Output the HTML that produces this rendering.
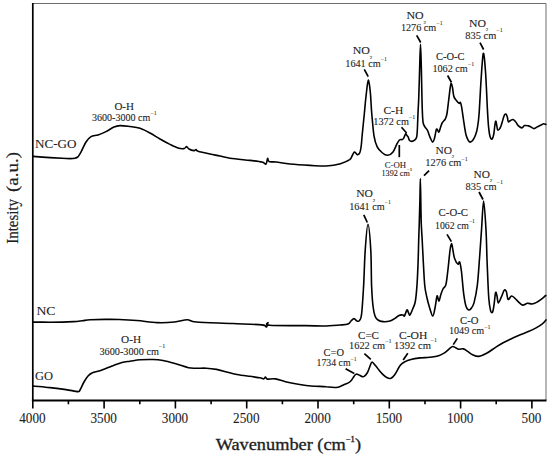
<!DOCTYPE html>
<html><head><meta charset="utf-8"><title>FTIR spectra</title>
<style>
html,body{margin:0;padding:0;background:#fff;}
body{width:550px;height:457px;overflow:hidden;}
svg{display:block;}
text{font-family:"Liberation Serif",serif;fill:#1e1e1e;stroke:#1e1e1e;stroke-width:0.1px;}
.ax{stroke:#1e1e1e;stroke-width:0.2px;}
.sub{font-size:5px;}
.a{font-size:10.2px;}
.s{font-size:8px;}
.l{font-size:12.5px;}
.t{font-size:14px;}
.sup{font-size:6px;stroke-width:0.05px;}
.c{fill:none;stroke:#000;stroke-width:1.6;stroke-linejoin:round;stroke-linecap:round;}
.ld{stroke:#000;stroke-width:1.7;stroke-linecap:butt;}
</style></head><body>
<svg width="550" height="457" viewBox="0 0 550 457">
<rect width="550" height="457" fill="#fff"/>

<path d="M33 3.5H546V400" fill="none" stroke="#6e6e6e" stroke-width="1"/>
<path d="M32.8 3V401" fill="none" stroke="#000" stroke-width="1.7"/>
<path d="M31.9 400.5H546.5" fill="none" stroke="#000" stroke-width="2"/>
<path d="M32.8 400V408.6M104.1 400V408.6M175.4 400V408.6M246.7 400V408.6M318.0 400V408.6M389.3 400V408.6M460.6 400V408.6M531.9 400V408.6M68.4 400V404.2M139.8 400V404.2M211.1 400V404.2M282.4 400V404.2M353.7 400V404.2M425.0 400V404.2M496.2 400V404.2" stroke="#000" stroke-width="1.6" fill="none"/>
<text class="t" x="32.4" y="422.5" text-anchor="middle" textLength="26.4" lengthAdjust="spacingAndGlyphs">4000</text>
<text class="t" x="103.7" y="422.5" text-anchor="middle" textLength="26.4" lengthAdjust="spacingAndGlyphs">3500</text>
<text class="t" x="175.0" y="422.5" text-anchor="middle" textLength="26.4" lengthAdjust="spacingAndGlyphs">3000</text>
<text class="t" x="246.3" y="422.5" text-anchor="middle" textLength="26.4" lengthAdjust="spacingAndGlyphs">2500</text>
<text class="t" x="317.6" y="422.5" text-anchor="middle" textLength="26.4" lengthAdjust="spacingAndGlyphs">2000</text>
<text class="t" x="388.9" y="422.5" text-anchor="middle" textLength="26.4" lengthAdjust="spacingAndGlyphs">1500</text>
<text class="t" x="460.2" y="422.5" text-anchor="middle" textLength="26.4" lengthAdjust="spacingAndGlyphs">1000</text>
<text class="t" x="531.5" y="422.5" text-anchor="middle" textLength="19.8" lengthAdjust="spacingAndGlyphs">500</text>
<path class="c" d="M33.0 156.4C35.8 156.6 45.2 157.3 50.0 157.6C54.8 157.9 58.7 158.1 62.0 158.3C65.3 158.5 67.8 158.6 70.0 158.6C72.2 158.6 73.7 158.5 75.0 158.2C76.3 157.9 77.0 157.6 77.8 157.0C78.5 156.4 78.9 155.5 79.5 154.6C80.1 153.7 80.1 153.7 81.2 151.6C82.3 149.5 84.4 144.5 86.0 142.0C87.6 139.5 89.0 137.8 91.0 136.6C93.0 135.4 95.5 135.8 98.0 135.0C100.5 134.2 103.3 132.9 106.0 131.6C108.7 130.3 111.7 128.0 114.0 127.0C116.3 126.0 117.3 125.7 120.0 125.6C122.7 125.5 126.7 126.1 130.0 126.5C133.3 126.9 136.7 127.1 140.0 128.2C143.3 129.3 146.7 131.2 150.0 133.0C153.3 134.8 156.7 137.1 160.0 139.0C163.3 140.9 167.0 142.9 170.0 144.4C173.0 145.9 175.7 147.3 178.0 148.0C180.3 148.7 182.6 148.8 184.0 148.6C185.4 148.4 185.8 146.5 186.6 146.6C187.4 146.7 187.8 148.3 189.0 149.0C190.2 149.7 192.8 150.5 194.0 150.6C195.2 150.7 195.3 149.5 196.0 149.6C196.7 149.7 195.7 150.5 198.0 151.2C200.3 151.9 206.3 153.2 210.0 154.0C213.7 154.8 216.7 155.3 220.0 156.0C223.3 156.7 225.0 157.5 230.0 158.2C235.0 158.9 244.7 159.8 250.0 160.4C255.3 161.0 259.3 161.4 262.0 162.0C264.7 162.6 265.1 164.6 266.0 164.0C266.9 163.4 267.1 158.8 267.6 158.4C268.1 158.0 267.6 161.0 269.0 161.6C270.4 162.2 272.5 161.6 276.0 162.0C279.5 162.4 284.3 163.4 290.0 164.0C295.7 164.6 304.0 165.1 310.0 165.4C316.0 165.7 320.9 166.3 326.0 166.0C331.1 165.7 336.6 164.8 340.5 163.7C344.4 162.6 347.7 161.1 349.7 159.7C351.7 158.2 351.8 156.2 352.5 155.0C353.2 153.8 353.7 152.6 354.2 152.2C354.7 151.8 355.0 152.2 355.5 152.6C356.0 153.0 356.4 154.5 357.1 154.6C357.8 154.7 358.9 154.6 359.6 153.2C360.3 151.8 360.8 148.9 361.2 146.0C361.6 143.1 361.6 141.3 362.1 136.0C362.6 130.7 363.7 120.0 364.3 114.0C364.9 108.0 365.2 103.7 365.6 100.0C366.0 96.3 366.2 94.6 366.5 92.0C366.8 89.4 367.1 86.5 367.4 84.5C367.7 82.5 368.1 80.0 368.4 80.0C368.7 80.0 369.1 82.5 369.4 84.5C369.7 86.5 370.0 89.1 370.3 92.0C370.6 94.9 370.8 98.3 371.0 102.0C371.2 105.7 371.3 108.4 371.8 114.0C372.3 119.6 373.1 130.3 374.0 135.8C374.9 141.3 375.8 143.9 377.2 146.8C378.6 149.7 380.8 151.6 382.5 153.0C384.2 154.4 385.9 155.5 387.7 155.3C389.4 155.1 391.5 153.8 393.0 151.9C394.5 150.0 395.8 146.0 396.9 144.0C398.0 142.0 398.6 140.8 399.5 140.0C400.4 139.2 401.5 139.8 402.2 139.5C402.9 139.2 403.0 139.3 403.6 138.4C404.2 137.5 405.0 134.3 405.6 133.8C406.2 133.3 406.6 135.1 407.0 135.6C407.4 136.1 407.8 136.2 408.2 137.0C408.6 137.8 408.8 139.5 409.4 140.2C410.0 140.9 410.7 141.4 411.6 141.4C412.5 141.4 413.8 140.9 414.6 140.2C415.4 139.5 416.1 139.1 416.6 137.2C417.1 135.3 417.2 132.7 417.4 128.7C417.6 124.7 417.8 118.0 418.0 113.1C418.2 108.1 418.4 106.2 418.7 99.0C419.0 91.8 419.3 79.1 419.6 70.0C419.9 60.9 420.2 44.2 420.5 44.2C420.8 44.2 421.1 60.7 421.4 70.0C421.6 79.3 421.8 92.2 422.0 100.0C422.2 107.8 422.4 113.1 422.6 117.0C422.8 120.9 422.9 121.8 423.3 123.5C423.7 125.2 424.2 125.8 424.9 126.9C425.6 128.1 426.6 128.7 427.5 130.4C428.4 132.2 429.2 135.5 430.1 137.4C431.0 139.3 431.9 141.9 432.6 142.1C433.3 142.2 433.9 140.2 434.5 138.3C435.1 136.4 435.7 131.9 436.1 130.4C436.5 128.9 436.6 128.9 437.1 129.2C437.6 129.5 438.3 132.4 438.9 132.1C439.5 131.8 439.9 129.1 440.5 127.5C441.1 125.9 441.6 123.8 442.4 122.5C443.1 121.2 444.3 120.8 445.0 119.5C445.7 118.2 446.2 117.5 446.8 114.5C447.4 111.5 447.9 106.2 448.5 101.5C449.1 96.8 449.9 89.5 450.4 86.5C450.9 83.5 451.0 83.4 451.4 83.6C451.8 83.8 452.1 85.4 452.5 87.5C452.9 89.6 453.2 94.1 453.8 96.3C454.4 98.5 455.5 99.4 456.4 100.6C457.3 101.8 458.3 103.0 459.0 103.3C459.7 103.6 460.0 101.8 460.4 102.4C460.8 103.0 461.1 104.0 461.6 106.8C462.1 109.6 462.7 114.3 463.4 119.0C464.1 123.7 465.1 131.2 466.0 134.8C466.9 138.5 467.9 139.7 468.6 140.9C469.3 142.1 469.7 142.2 470.4 142.1C471.1 141.9 472.1 141.2 473.0 140.0C473.9 138.8 474.9 136.8 475.6 134.8C476.3 132.8 476.8 131.3 477.4 127.8C478.0 124.3 478.5 121.9 479.1 113.8C479.7 105.7 480.4 89.5 481.1 79.4C481.8 69.3 482.6 54.6 483.3 53.3C484.0 52.0 484.8 62.2 485.5 71.5C486.2 80.8 486.9 99.6 487.4 109.1C487.9 118.5 488.2 123.5 488.7 128.2C489.2 132.9 489.6 135.3 490.2 137.1C490.8 138.9 491.5 139.4 492.1 139.0C492.7 138.6 493.2 136.9 493.7 134.5C494.2 132.1 494.6 126.6 495.0 124.4C495.4 122.2 495.6 121.0 495.9 121.2C496.2 121.4 496.5 124.1 496.8 125.6C497.1 127.1 497.2 129.8 497.8 130.1C498.4 130.4 499.6 128.9 500.4 127.5C501.1 126.1 501.7 123.8 502.3 121.8C502.9 119.8 503.6 116.8 504.2 115.5C504.8 114.2 505.6 113.9 506.1 114.2C506.6 114.5 507.0 116.1 507.4 117.4C507.8 118.7 507.8 121.3 508.3 121.8C508.8 122.3 509.7 120.9 510.5 120.5C511.3 120.1 512.2 119.3 513.1 119.5C514.0 119.7 514.8 120.8 515.6 121.8C516.5 122.8 517.1 124.6 518.2 125.6C519.3 126.6 521.0 127.9 522.0 127.9C523.0 127.9 523.4 125.9 524.5 125.6C525.6 125.3 527.3 125.7 528.4 125.9C529.5 126.1 529.9 126.5 530.9 126.9C531.9 127.4 533.0 128.6 534.1 128.6C535.2 128.6 536.1 127.5 537.3 126.9C538.5 126.3 540.0 125.5 541.1 125.0C542.2 124.5 542.8 123.8 543.6 123.7C544.4 123.6 545.4 124.3 545.8 124.4"/>
<path class="c" d="M33.0 322.1C35.8 322.1 45.0 322.2 50.0 322.2C55.0 322.2 58.8 322.2 62.7 322.1C66.6 322.0 70.3 321.8 73.6 321.6C76.9 321.4 79.7 321.0 82.4 320.7C85.1 320.4 86.2 320.0 90.0 319.8C93.8 319.6 100.2 319.4 105.0 319.4C109.8 319.3 113.7 319.3 119.0 319.5C124.3 319.7 130.5 320.0 136.9 320.5C143.3 321.0 150.9 322.4 157.2 322.6C163.5 322.9 169.5 322.5 174.5 322.0C179.5 321.5 183.7 319.8 187.3 319.8C191.0 319.8 188.8 321.4 196.4 322.0C204.0 322.6 221.8 323.0 232.7 323.5C243.6 324.0 256.2 324.3 261.8 324.9C267.4 325.5 265.5 327.4 266.5 327.0C267.5 326.6 267.4 323.0 268.0 322.7C268.6 322.4 263.6 324.8 269.8 325.3C276.1 325.8 296.5 325.5 305.5 325.6C314.5 325.7 317.9 326.1 323.6 326.0C329.4 325.9 335.9 325.3 340.0 325.0C344.1 324.7 346.2 324.7 348.0 324.0C349.8 323.3 350.0 321.9 351.0 321.0C352.0 320.1 353.0 318.6 354.0 318.6C355.0 318.6 356.1 320.7 357.0 321.0C357.9 321.3 358.6 321.8 359.4 320.6C360.2 319.4 360.9 319.8 361.6 314.0C362.3 308.2 363.0 296.6 363.6 286.0C364.2 275.4 364.5 260.8 365.2 250.5C365.9 240.2 367.1 224.3 368.0 224.3C368.9 224.3 370.2 240.2 370.8 250.5C371.4 260.8 371.2 276.8 371.6 286.0C372.0 295.2 372.4 301.0 373.0 306.0C373.6 311.0 374.2 313.7 375.0 316.0C375.8 318.3 376.7 319.1 378.0 320.0C379.3 320.9 381.0 321.4 383.0 321.6C385.0 321.8 388.0 321.5 390.0 321.0C392.0 320.5 393.5 319.3 395.0 318.4C396.5 317.5 397.7 316.0 399.0 315.4C400.3 314.8 402.1 314.9 403.0 315.0C403.9 315.1 403.7 316.8 404.4 316.0C405.1 315.2 406.3 310.5 407.0 310.0C407.7 309.5 408.1 312.2 408.6 313.0C409.1 313.8 409.4 315.6 410.0 315.0C410.6 314.4 411.6 311.8 412.5 309.5C413.4 307.2 414.6 305.6 415.3 301.5C416.1 297.4 416.5 291.6 417.0 285.0C417.5 278.4 417.8 269.5 418.1 262.0C418.4 254.5 418.5 246.7 418.7 240.0C418.9 233.3 419.1 228.7 419.3 222.0C419.5 215.3 419.7 207.2 419.9 200.0C420.1 192.8 420.2 178.5 420.4 178.5C420.5 178.5 420.7 192.8 420.8 200.0C420.9 207.2 421.0 215.3 421.2 222.0C421.4 228.7 421.9 234.0 422.2 240.0C422.5 246.0 422.7 250.5 423.1 258.0C423.5 265.5 424.1 278.3 424.7 285.0C425.3 291.7 426.2 294.2 427.0 298.0C427.8 301.8 428.7 304.7 429.6 307.7C430.6 310.7 431.8 315.9 432.7 316.0C433.6 316.1 434.4 311.0 435.0 308.0C435.6 305.0 436.2 300.0 436.6 298.0C437.0 296.0 437.0 295.5 437.4 296.0C437.8 296.5 438.4 301.3 439.0 301.0C439.6 300.7 440.3 296.0 441.0 294.0C441.7 292.0 442.2 290.6 443.0 289.0C443.8 287.4 445.1 287.6 445.9 284.6C446.7 281.6 447.1 276.7 447.8 271.0C448.5 265.3 449.4 255.1 450.0 250.5C450.6 245.9 451.1 243.6 451.6 243.6C452.1 243.6 452.5 248.0 453.0 250.5C453.5 253.0 453.8 256.2 454.6 258.5C455.4 260.8 457.2 263.6 458.0 264.2C458.8 264.8 459.0 260.8 459.6 261.9C460.2 263.0 460.7 265.7 461.4 271.0C462.1 276.3 462.9 287.9 463.7 293.8C464.5 299.7 465.2 303.7 466.0 306.3C466.8 308.9 467.6 309.2 468.3 309.7C469.1 310.2 469.6 310.3 470.5 309.2C471.4 308.1 472.9 307.0 474.0 302.9C475.1 298.8 476.5 292.2 477.4 284.6C478.3 277.0 478.9 266.4 479.6 257.3C480.3 248.2 480.8 239.4 481.5 230.0C482.2 220.6 482.9 201.0 483.6 201.0C484.4 201.0 485.4 219.5 486.0 230.0C486.6 240.5 486.7 252.8 487.2 264.2C487.7 275.6 488.2 290.5 488.8 298.3C489.4 306.1 490.0 308.5 490.6 310.8C491.2 313.1 492.0 312.9 492.6 312.0C493.2 311.1 493.5 308.3 494.0 305.1C494.5 301.9 495.1 294.1 495.6 292.6C496.1 291.1 496.6 294.3 497.0 296.0C497.4 297.7 497.6 302.7 498.3 302.9C499.0 303.1 500.3 299.3 501.3 297.2C502.3 295.1 503.4 291.2 504.2 290.3C505.0 289.4 505.6 290.0 506.3 291.5C507.0 293.0 507.2 298.6 508.1 299.4C509.0 300.1 510.4 296.2 511.5 296.0C512.6 295.8 513.7 297.2 515.0 298.3C516.3 299.4 518.2 301.8 519.5 302.9C520.8 304.0 521.6 305.0 522.9 305.1C524.2 305.2 526.0 303.5 527.5 303.3C529.0 303.1 530.5 304.1 532.0 304.0C533.5 303.9 535.1 303.2 536.6 302.4C538.1 301.6 539.6 300.5 541.1 299.4C542.6 298.2 545.0 296.1 545.8 295.5"/>
<path class="c" d="M33.0 386.0C35.8 386.3 44.5 387.0 50.0 387.6C55.5 388.2 61.3 388.9 66.0 389.6C70.7 390.3 75.7 391.5 78.0 391.6C80.3 391.7 79.0 391.6 80.0 390.0C81.0 388.4 82.7 384.3 84.0 382.0C85.3 379.7 86.7 377.5 88.0 376.0C89.3 374.5 89.7 374.0 92.0 373.0C94.3 372.0 98.7 371.2 102.0 370.0C105.3 368.8 108.7 367.3 112.0 366.0C115.3 364.7 119.0 363.2 122.0 362.4C125.0 361.6 127.0 361.6 130.0 361.2C133.0 360.8 136.4 360.1 140.2 359.8C144.0 359.5 149.1 359.4 152.9 359.5C156.7 359.6 159.2 359.8 163.0 360.5C166.8 361.2 171.6 362.6 175.8 363.8C180.1 365.0 185.1 367.0 188.5 367.7C191.9 368.4 193.2 368.1 196.2 368.2C199.2 368.3 202.9 368.0 206.3 368.2C209.7 368.4 213.1 368.8 216.5 369.4C219.9 370.0 223.3 371.1 226.7 372.0C230.1 372.9 233.1 373.8 236.9 374.5C240.7 375.2 245.8 375.8 249.6 376.3C253.4 376.9 257.5 377.4 259.8 377.8C262.1 378.2 262.7 379.0 263.6 378.9C264.5 378.8 264.8 377.1 265.4 377.1C266.0 377.1 265.8 378.8 267.4 379.1C269.0 379.4 272.3 378.5 275.3 378.9C278.3 379.3 281.6 380.8 285.4 381.7C289.2 382.6 293.9 383.5 298.2 384.2C302.4 384.9 306.2 385.6 310.9 386.0C315.6 386.4 322.0 386.4 326.2 386.7C330.4 386.9 334.1 387.5 336.3 387.5C338.5 387.5 338.3 387.3 339.6 386.8C340.9 386.3 342.7 385.2 344.2 384.5C345.7 383.8 347.6 383.3 348.8 382.6C350.0 381.9 350.7 381.3 351.5 380.3C352.3 379.3 353.1 377.7 353.8 376.7C354.5 375.7 355.0 374.8 355.7 374.4C356.4 374.0 356.9 374.0 358.0 374.4C359.1 374.8 361.5 376.4 362.6 376.7C363.7 377.0 363.6 376.8 364.4 376.2C365.2 375.6 366.3 374.4 367.2 373.0C368.1 371.6 368.8 369.2 369.5 367.5C370.2 365.8 370.8 363.8 371.3 362.9C371.8 362.0 372.0 361.9 372.7 362.4C373.4 362.8 374.3 364.3 375.4 365.6C376.5 366.9 377.9 368.7 379.1 370.2C380.3 371.7 381.5 373.1 382.8 374.4C384.1 375.7 385.8 377.1 387.2 377.8C388.6 378.5 389.7 378.9 391.0 378.3C392.3 377.8 393.4 376.6 394.9 374.5C396.4 372.4 398.5 367.7 400.1 365.6C401.7 363.5 402.9 362.9 404.7 361.9C406.5 360.9 408.3 360.2 410.9 359.5C413.5 358.8 417.1 358.3 420.2 357.9C423.3 357.5 426.4 357.7 429.5 357.3C432.6 356.9 436.1 356.5 438.7 355.7C441.3 354.9 443.1 353.9 444.9 352.7C446.7 351.5 448.3 349.6 449.6 348.6C450.9 347.6 451.6 346.6 452.6 346.5C453.6 346.4 454.7 347.2 455.7 347.7C456.7 348.2 457.5 349.1 458.8 349.3C460.1 349.5 461.9 348.5 463.5 348.9C465.1 349.3 466.6 350.7 468.1 351.7C469.6 352.7 470.9 354.0 472.7 354.8C474.5 355.6 476.6 356.6 478.9 356.4C481.2 356.1 483.8 354.9 486.6 353.3C489.4 351.8 493.1 348.9 495.9 347.1C498.7 345.3 501.3 343.8 503.6 342.5C505.9 341.2 507.2 340.6 509.8 339.4C512.4 338.2 516.0 336.6 519.1 335.3C522.2 334.0 525.6 332.8 528.4 331.6C531.2 330.4 533.8 329.2 536.1 327.9C538.4 326.6 540.6 325.2 542.3 323.9C543.9 322.6 545.4 320.6 546.0 319.9"/>
<line class="ld" x1="364.3" y1="69.3" x2="368.2" y2="76.6"/>
<line class="ld" x1="416.7" y1="35.3" x2="420.7" y2="42.5"/>
<line class="ld" x1="401.5" y1="127.3" x2="406.6" y2="133.0"/>
<line class="ld" x1="399.3" y1="145.0" x2="399.3" y2="157.2"/>
<line class="ld" x1="447.6" y1="75.5" x2="451.5" y2="82.5"/>
<line class="ld" x1="480.0" y1="42.7" x2="483.6" y2="49.5"/>
<line class="ld" x1="363.8" y1="214.8" x2="367.3" y2="222.5"/>
<line class="ld" x1="424.0" y1="175.7" x2="429.1" y2="170.6"/>
<line class="ld" x1="447.0" y1="234.4" x2="451.4" y2="241.6"/>
<line class="ld" x1="479.0" y1="192.0" x2="483.0" y2="199.5"/>
<line class="ld" x1="345.6" y1="368.8" x2="354.3" y2="373.4"/>
<line class="ld" x1="364.4" y1="353.7" x2="370.8" y2="359.4"/>
<line class="ld" x1="407.8" y1="353.3" x2="403.2" y2="360.1"/>
<line class="ld" x1="457.3" y1="338.4" x2="453.3" y2="344.6"/>
<text class="l" x="35.0" y="147.6" textLength="41.4" lengthAdjust="spacingAndGlyphs">NC-GO</text>
<text class="l" x="36.4" y="315.4" textLength="19.0" lengthAdjust="spacingAndGlyphs">NC</text>
<text class="l" x="35.0" y="380.0" textLength="18.0" lengthAdjust="spacingAndGlyphs">GO</text>
<text class="a" x="114.4" y="110.0" textLength="19.6" lengthAdjust="spacingAndGlyphs">O-H</text>
<text class="a" x="92.0" y="121.0" textLength="64.6" lengthAdjust="spacingAndGlyphs">3600-3000 cm<tspan class="sup" dy="-6.4">−1</tspan></text>
<text class="a" x="352.7" y="54.4" textLength="17.2" lengthAdjust="spacingAndGlyphs">NO</text><text class="sub" x="369.7" y="59.0">2</text>
<text class="a" x="345.3" y="67.4" textLength="41.8" lengthAdjust="spacingAndGlyphs">1641 cm<tspan class="sup" dy="-6.3">−1</tspan></text>
<text class="a" x="383.4" y="114.3" textLength="19.8" lengthAdjust="spacingAndGlyphs">C-H</text>
<text class="a" x="373.3" y="125.2" textLength="42.0" lengthAdjust="spacingAndGlyphs">1372 cm<tspan class="sup" dy="-6.1">−1</tspan></text>
<text class="s" x="384.7" y="168.0" textLength="21.3" lengthAdjust="spacingAndGlyphs">C-OH</text>
<text class="sub" x="407" y="171">−1</text>
<text class="s" x="381.5" y="176.0" textLength="28.3" lengthAdjust="spacingAndGlyphs">1392 cm</text>
<text class="a" x="406.4" y="19.1" textLength="17.2" lengthAdjust="spacingAndGlyphs">NO</text><text class="sub" x="423.4" y="23.7">2</text>
<text class="a" x="400.9" y="31.3" textLength="41.8" lengthAdjust="spacingAndGlyphs">1276 cm<tspan class="sup" dy="-6.0">−1</tspan></text>
<text class="a" x="436.0" y="59.6" textLength="28.5" lengthAdjust="spacingAndGlyphs">C-O-C</text>
<text class="a" x="432.4" y="72.0" textLength="41.8" lengthAdjust="spacingAndGlyphs">1062 cm<tspan class="sup" dy="-5.7">−1</tspan></text>
<text class="a" x="469.0" y="26.7" textLength="17.0" lengthAdjust="spacingAndGlyphs">NO</text><text class="sub" x="485.8" y="31.3">2</text>
<text class="a" x="465.3" y="38.8" textLength="37.5" lengthAdjust="spacingAndGlyphs">835 cm<tspan class="sup" dy="-7.2">−1</tspan></text>
<text class="a" x="356.2" y="197.3" textLength="16.7" lengthAdjust="spacingAndGlyphs">NO</text><text class="sub" x="372.7" y="201.9">2</text>
<text class="a" x="349.2" y="209.9" textLength="41.8" lengthAdjust="spacingAndGlyphs">1641 cm<tspan class="sup" dy="-5.8">−1</tspan></text>
<text class="a" x="435.5" y="153.5" textLength="16.5" lengthAdjust="spacingAndGlyphs">NO</text><text class="sub" x="451.8" y="158.1">2</text>
<text class="a" x="425.3" y="166.2" textLength="42.6" lengthAdjust="spacingAndGlyphs">1276 cm<tspan class="sup" dy="-5.7">−1</tspan></text>
<text class="a" x="438.6" y="215.6" textLength="29.4" lengthAdjust="spacingAndGlyphs">C-O-C</text>
<text class="a" x="435.0" y="229.1" textLength="40.0" lengthAdjust="spacingAndGlyphs">1062 cm<tspan class="sup" dy="-6.3">−1</tspan></text>
<text class="a" x="473.6" y="177.6" textLength="16.4" lengthAdjust="spacingAndGlyphs">NO</text><text class="sub" x="489.8" y="182.2">2</text>
<text class="a" x="465.6" y="189.6" textLength="37.4" lengthAdjust="spacingAndGlyphs">835 cm<tspan class="sup" dy="-5.2">−1</tspan></text>
<text class="a" x="121.1" y="342.7" textLength="20.0" lengthAdjust="spacingAndGlyphs">O-H</text>
<text class="a" x="99.5" y="354.5" textLength="65.8" lengthAdjust="spacingAndGlyphs">3600-3000 cm<tspan class="sup" dy="-6.2">−1</tspan></text>
<text class="a" x="323.6" y="356.2" textLength="20.4" lengthAdjust="spacingAndGlyphs">C=O</text>
<text class="a" x="316.5" y="365.9" textLength="40.2" lengthAdjust="spacingAndGlyphs">1734 cm<tspan class="sup" dy="-5.3">−1</tspan></text>
<text class="a" x="358.0" y="339.0" textLength="21.0" lengthAdjust="spacingAndGlyphs">C=C</text>
<text class="a" x="349.0" y="348.7" textLength="42.6" lengthAdjust="spacingAndGlyphs">1622 cm<tspan class="sup" dy="-5.6">−1</tspan></text>
<text class="a" x="399.0" y="339.0" textLength="28.4" lengthAdjust="spacingAndGlyphs">C-OH</text>
<text class="sup" x="430.5" y="342">−1</text>
<text class="a" x="394.0" y="349.0" textLength="37.0" lengthAdjust="spacingAndGlyphs">1392 cm</text>
<text class="a" x="460.0" y="323.7" textLength="18.5" lengthAdjust="spacingAndGlyphs">C-O</text>
<text class="a" x="449.0" y="333.5" textLength="41.5" lengthAdjust="spacingAndGlyphs">1049 cm<tspan class="sup" dy="-4.4">−1</tspan></text>
<text class="ax" x="215.7" y="450" style="font-size:16px;stroke-width:0.32px" textLength="145.3" lengthAdjust="spacingAndGlyphs">Wavenumber (cm<tspan style="font-size:7.5px" dy="-8">−1</tspan><tspan dy="8">)</tspan></text>
<text transform="translate(18.2,243.8) rotate(-90)" class="ax" style="font-size:16.5px" textLength="44.8" lengthAdjust="spacingAndGlyphs">Intesity</text>
<text transform="translate(18.2,192.1) rotate(-90)" class="ax" style="font-size:16.5px" textLength="40.2" lengthAdjust="spacingAndGlyphs">(a.u.)</text>
</svg></body></html>
